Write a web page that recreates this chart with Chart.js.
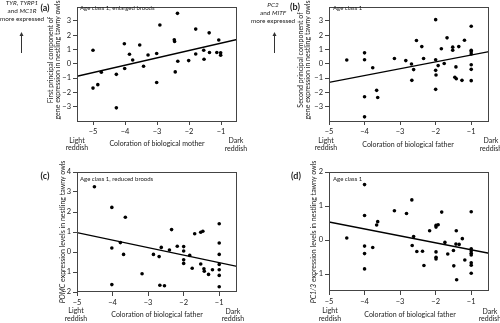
<!DOCTYPE html>
<html>
<head>
<meta charset="utf-8">
<script src="https://cdn.jsdelivr.net/npm/chart.js@4"></script>
<style>
  body { margin: 0; background: #fff; }
  #fig { position: relative; width: 500px; height: 323px; overflow: hidden; font-family: Lato, "Open Sans", sans-serif; color: #222; }
  canvas { position: absolute; }
  .t { position: absolute; transform: translate(-50%, -50%); white-space: nowrap; text-align: center; font-size: 7px; line-height: 7.6px; }
  .l { position: absolute; transform: translate(0, -50%); white-space: nowrap; font-size: 6px; }
  .rot { position: absolute; transform: translate(-50%, -50%) rotate(-90deg); white-space: nowrap; text-align: center; font-size: 7px; line-height: 7px; }
  .pl { position: absolute; transform: translate(-50%, -50%); font-size: 9px; font-weight: bold; }
  .ann { position: absolute; transform: translate(-50%, 0); white-space: nowrap; text-align: center; font-size: 6.4px; line-height: 8px; }
</style>
</head>
<body>
<div id="fig">
  <canvas id="cA" width="250" height="160" style="left:0;top:0"></canvas>
  <canvas id="cB" width="250" height="160" style="left:250px;top:0"></canvas>
  <canvas id="cC" width="250" height="163" style="left:0;top:160px"></canvas>
  <canvas id="cD" width="250" height="163" style="left:250px;top:160px"></canvas>

  <!-- textos de cada panel -->
  <div class="ann" style="left:22px;top:-1px"><i>TYR</i>, <i>TYRP1</i><br>and <i>MC1R</i><br>more expressed</div>
  <div class="ann" style="left:273px;top:1px"><i>PC2</i><br>and <i>MITF</i><br>more expressed</div>
  <svg style="position:absolute;left:0;top:0" width="500" height="60">
    <line x1="21.5" y1="35" x2="21.5" y2="53" stroke="#333" stroke-width="1"/>
    <path d="M19.5 36 L21.5 32 L23.5 36 Z" fill="#333"/>
    <line x1="274.5" y1="35" x2="274.5" y2="53" stroke="#333" stroke-width="1"/>
    <path d="M272.5 36 L274.5 32 L276.5 36 Z" fill="#333"/>
  </svg>

  <div class="pl" style="left:45px;top:7px">(a)</div>
  <div class="pl" style="left:295px;top:6px">(b)</div>
  <div class="pl" style="left:45px;top:175px">(c)</div>
  <div class="pl" style="left:296px;top:175px">(d)</div>

  <div class="l" style="left:80px;top:7px">Age class 1, enlarged broods</div>
  <div class="l" style="left:333px;top:7px">Age class 1</div>
  <div class="l" style="left:80px;top:178px">Age class 1, reduced broods</div>
  <div class="l" style="left:333px;top:178px">Age class 1</div>

  <div class="rot" style="left:53.5px;top:60px">First principal component of<br>gene expression in nestling tawny owls</div>
  <div class="rot" style="left:303.5px;top:60px">Second principal component of<br>gene expression in nestling tawny owls</div>
  <div class="rot" style="left:62px;top:232px"><i>POMC</i> expression levels in nestling tawny owls</div>
  <div class="rot" style="left:313px;top:232px"><i>PC1/3</i> expression levels in nestling tawny owls</div>

  <div class="t" style="left:157px;top:144px">Coloration of biological mother</div>
  <div class="t" style="left:408px;top:145px">Coloration of biological father</div>
  <div class="t" style="left:157px;top:315px">Coloration of biological father</div>
  <div class="t" style="left:410px;top:315px">Coloration of biological father</div>

  <div class="t" style="left:77px;top:144.5px">Light<br>reddish</div>
  <div class="t" style="left:326px;top:144.5px">Light<br>reddish</div>
  <div class="t" style="left:76px;top:315px">Light<br>reddish</div>
  <div class="t" style="left:330px;top:315px">Light<br>reddish</div>
  <div class="t" style="left:236px;top:145px">Dark<br>reddish</div>
  <div class="t" style="left:491px;top:145px">Dark<br>reddish</div>
  <div class="t" style="left:233px;top:315.5px">Dark<br>reddish</div>
  <div class="t" style="left:490px;top:315.5px">Dark<br>reddish</div>
</div>

<script>
// (a) madre, brood agrandado
const colorMadreA = [-5, -5, -4.85, -4.74, -4.27, -4.27, -4.02, -4.01, -3.86, -3.76, -3.54, -3.42, -3.28, -3.01, -3.01, -2.91, -2.46, -2.45, -2.43, -2.36, -2.35, -2.01, -1.79, -1.79, -1.54, -1.53, -1.37, -1.36, -1.13, -1.07, -1.01, -1.01]
const pc1A = [0.94, -1.70, -1.46, -0.59, -0.74, -3.08, 1.40, -0.33, 0.66, 0.26, 1.31, -0.17, 0.61, 0.72, -1.31, 2.71, 1.68, 1.55, -0.57, 3.52, 0.17, 0.22, 2.42, 0.68, 0.94, 0.31, 2.16, 0.79, 0.79, 1.66, 0.76, 0.59]
const rectaA = [[-5.5, -0.87], [-0.5, 1.70]]

// (b) padre
const colorPadreB = [-4.5, -4, -4, -3.77, -4, -3.66, -3.63, -4, -3.16, -2.84, -2.68, -2.62, -2.67, -2.54, -2.39, -2.34, -2, -2, -2, -1.99, -2, -1.93, -1.84, -1.76, -1.68, -1.52, -1.52, -1.43, -1.46, -1.42, -1.35, -1.26, -1.19, -1, -1, -1, -1, -1, -1, -1]
const pc2B = [0.26, 0.76, 0.28, -0.28, -2.31, -1.86, -2.36, -3.71, 0.37, 0.22, -0.02, -0.41, -1.16, 1.62, 1.20, 0.37, 3.08, 0.28, -0.46, -0.79, -1.79, -0.13, 1.05, 0.02, 1.81, 1.16, 0.94, -0.22, -0.94, -1.05, 1.20, -1.16, 1.64, 2.62, 0.94, 0.83, 0.68, -0.07, -0.39, -1.18]
const rectaB = [[-5, -1.30], [-0.5, 0.85]]

// (c) padre, brood reducido
const colorPadreC = [-4.51, -4.02, -3.64, -4.02, -3.78, -3.69, -4.02, -3.17, -2.85, -2.69, -2.63, -2.67, -2.54, -2.40, -2.34, -2.18, -2, -2, -2, -2, -1.83, -1.76, -1.69, -1.52, -1.46, -1.52, -1.43, -1.42, -1.30, -1.19, -1, -1, -1, -1, -1, -1, -1]
const pomcC = [3.26, 2.23, 1.74, 0.20, 0.47, -0.12, -1.63, -1.09, -0.12, -0.23, 0.23, -1.66, -1.69, 0.10, 1.12, 0.29, 0.27, 0.05, -0.39, -0.57, -0.17, -0.81, 0.91, 0.99, 1.04, -0.60, -0.84, -0.96, -1.12, -0.89, 1.41, 0.45, -0.12, -0.62, -0.89, -1.17, -1.74]
const rectaC = [[-5, 0.97], [-0.5, -0.72]]

// (d) padre
const colorPadreD = [-4.5, -4, -4, -4, -4, -4, -3.77, -3.66, -3.63, -3.16, -2.82, -2.67, -2.62, -2.66, -2.53, -2.37, -2.33, -2.17, -1.99, -1.99, -1.93, -1.83, -1.99, -1.99, -1.99, -1.74, -1.66, -1.5, -1.49, -1.43, -1.42, -1.41, -1.34, -1.25, -1.18, -1, -1, -1, -1, -1, -1, -1, -1]
const pc13D = [0.06, 1.63, 0.72, -0.18, -0.40, -0.85, -0.22, 0.44, 0.54, 0.86, 0.78, 1.18, 0.10, -0.16, -0.34, -0.33, -0.75, 0.27, 0.38, 0.43, 0.45, 0.82, -0.35, -0.51, -0.56, -0.07, -0.41, -0.31, -0.76, -0.12, 0.27, -1.17, -0.13, 0.04, -0.59, 0.83, -0.26, -0.32, -0.39, -0.44, -0.67, -0.74, -0.98]
const rectaD = [[-5, 0.53], [-0.5, -0.39]]

// ticks
const ticksX = [-5, -4, -3, -2, -1]
const ticksYab = [-3, -2, -1, 0, 1, 2, 3]
const ticksYc = [-2, -1, 0, 1, 2, 3, 4]
const ticksYd = [-1, 0, 1, 2]

const menos = v => v < 0 ? '\u2212' + Math.abs(v) : String(v)

// marco alrededor del area del grafico
const marco = {
  id: 'marco',
  afterDraw(chart) {
    const a = chart.chartArea, ctx = chart.ctx
    ctx.save()
    ctx.strokeStyle = '#444'
    ctx.lineWidth = 1
    ctx.strokeRect(Math.round(a.left) + 0.5, Math.round(a.top) + 0.5, Math.round(a.right - a.left) - 1, Math.round(a.bottom - a.top) - 1)
    ctx.restore()
  }
}

const eje = (min, max, ticks, extra) => Object.assign({
  type: 'linear', min, max,
  afterBuildTicks: s => { s.ticks = ticks.map(v => ({ value: v })) },
  grid: { drawOnChartArea: false, drawTicks: true, tickLength: 4, color: '#444' },
  border: { display: false },
  ticks: { autoSkip: false, maxRotation: 0, color: '#222', font: { family: 'Lato', size: 7.5 }, callback: v => menos(v) }
}, extra)

const drawPanel = (contenedor, xs, ys, recta, xMin, yMin, yMax, yTicks, area) => {
  const c = document.getElementById(contenedor)
  const W = c.width, H = c.height
  const yAncho = 30, xAlto = 20
  return new Chart(c, {
    data: {
      datasets: [{
        type: 'scatter',
        data: xs.map((x, i) => ({ x, y: ys[i] })),
        pointRadius: 1.8, pointBackgroundColor: '#000', pointBorderWidth: 0
      }, {
        type: 'line',
        data: recta.map(p => ({ x: p[0], y: p[1] })),
        borderColor: '#000', borderWidth: 1.4, pointRadius: 0
      }]
    },
    options: {
      responsive: false, animation: false, devicePixelRatio: 1,
      layout: { padding: { left: area[0] - yAncho, top: area[1], right: W - area[2], bottom: H - area[3] - xAlto } },
      plugins: { legend: { display: false }, tooltip: { enabled: false } },
      scales: {
        x: eje(xMin, -0.5, ticksX, { afterFit: s => { s.height = xAlto }, ticks: { autoSkip: false, maxRotation: 0, padding: 2, color: '#222', font: { family: 'Lato', size: 7.5 }, callback: v => menos(v) } }),
        y: eje(yMin, yMax, yTicks, { afterFit: s => { s.width = yAncho }, ticks: { autoSkip: false, padding: 2, color: '#222', font: { family: 'Lato', size: 7.5 }, callback: v => menos(v) } })
      }
    },
    plugins: [marco]
  })
}

drawPanel('cA', colorMadreA, pc1A, rectaA, -5.5, -4, 4, ticksYab, [77, 1, 237, 121])
drawPanel('cB', colorPadreB, pc2B, rectaB, -5, -4, 4, ticksYab, [79, 1, 239, 121])
drawPanel('cC', colorPadreC, pomcC, rectaC, -5, -2, 4, ticksYc, [77, 12, 237, 132])
drawPanel('cD', colorPadreD, pc13D, rectaD, -5, -1.5, 2, ticksYd, [79, 12, 239, 131])
</script>
</body>
</html>
